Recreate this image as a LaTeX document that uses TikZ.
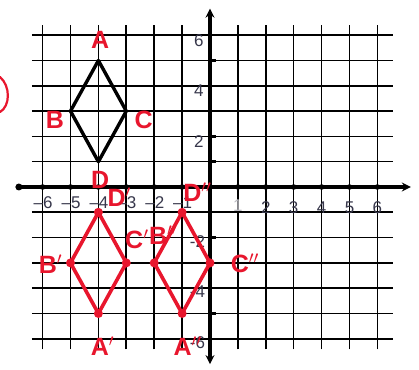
\documentclass[tikz,border=0pt]{standalone}
\usepackage{fontspec}
\setmainfont{Liberation Sans}
\usetikzlibrary{arrows.meta}
\definecolor{pen}{RGB}{232,22,45}
\definecolor{ticktxt}{RGB}{55,55,75}
\begin{document}
\begin{tikzpicture}[x=27.9pt,y=25.3pt,
  gridline/.style={line width=1.6pt,black},
  axisline/.style={line width=3.2pt,black},
  shapeline/.style={line width=3.4pt,black,line join=round},
  redline/.style={line width=3.6pt,pen,line join=round},
  vdot/.style={circle,fill=pen,inner sep=0pt,minimum size=9pt},
  lab/.style={text=pen,font=\bfseries\fontsize{25}{25}\selectfont,inner sep=0pt},
  ticklab/.style={text=ticktxt,font=\fontsize{17}{17}\selectfont,inner sep=0pt}]
\useasboundingbox[fill=white] (-7.527,-7.233) rectangle (7.491,7.391);
% grid
\foreach \y in {-6,...,-1,1,2,...,6} \draw[gridline] (-6.38,\y) -- (6.55,\y);
\foreach \x in {-6,...,-1,1,2,...,6} \draw[gridline] (\x,-6.42) -- (\x,6.42);
% axes
\draw[axisline,-{Stealth[length=9pt,width=9pt]}] (-6.85,0) -- (7.2,0);
\fill (-6.85,0) circle (3.5pt);
\draw[axisline,{Stealth[length=9pt,width=9pt]}-{Stealth[length=9pt,width=9pt]}] (0,-7.0) -- (0,7.05);
\foreach \x in {-6,...,-1,1,2,...,6} \fill (\x,0) circle (2.8pt);
\foreach \y in {-6,...,-1,1,2,...,6} \draw[line width=2.4pt] (-0.03,\y) -- (0.22,\y);
% tick labels
\foreach \x in {-6,...,-1} \node[ticklab] at (\x+0.02,-0.62) {-\x};
\node[ticklab,text=ticktxt!35] at (1,-0.75) {1};
\foreach \x in {2,...,6} \node[ticklab] at (\x,-0.8) {\x};
\foreach \y in {2,4,6} \node[ticklab] at (-0.4,\y-0.2) {\y};
\foreach \y in {-2,-4,-6} \node[ticklab] at (-0.45,\y-0.15) {\y};
% original figure
\coordinate (A) at (-4,5); \coordinate (B) at (-5,3);
\coordinate (C) at (-3,3); \coordinate (D) at (-4,1);
\draw[shapeline] (A) -- (C) -- (D) -- (B) -- cycle;
% first image
\node[vdot] (A1) at (-4,-5) {}; \node[vdot] (B1) at (-5,-3) {};
\node[vdot] (C1) at (-3,-3) {}; \node[vdot] (D1) at (-4,-1) {};
\draw[redline] (A1.center) -- (C1.center) -- (D1.center) -- (B1.center) -- cycle;
% second image
\node[vdot] (A2) at (-1,-5) {}; \node[vdot] (B2) at (-2,-3) {};
\node[vdot] (C2) at (0,-3) {}; \node[vdot] (D2) at (-1,-1) {};
\draw[redline] (A2.center) -- (C2.center) -- (D2.center) -- (B2.center) -- cycle;
% labels
\node[lab] (lA) at (-3.94,5.8) {A};
\node[lab] (lB) at (-5.56,2.65) {B};
\node[lab] (lC) at (-2.38,2.65) {C};
\node[lab] (lD) at (-3.94,0.3) {D};
\node[lab] (lD1) at (-3.25,-0.42) {D$'$};
\node[lab] (lC1) at (-2.62,-2.05) {C$'$};
\node[lab] (lB2) at (-1.68,-1.9) {B$''$};
\node[lab] (lB1) at (-5.72,-3.05) {B$'$};
\node[lab] (lA1) at (-3.85,-6.28) {A$'$};
\node[lab] (lD2) at (-0.45,-0.2) {D$''$};
\node[lab] (lC2) at (1.25,-3.0) {C$''$};
\node[lab] (lA2) at (-0.8,-6.3) {A$''$};
% partial circle mark at left
\draw[pen,line width=2.2pt,line cap=round] (-7.53,4.35) .. controls (-7.15,4.0) and (-7.15,3.2) .. (-7.53,2.96);
\end{tikzpicture}
\end{document}
